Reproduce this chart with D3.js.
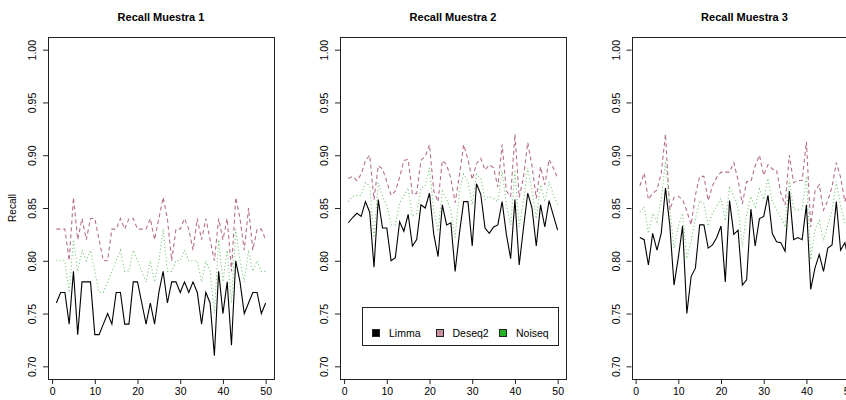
<!DOCTYPE html>
<html>
<head>
<meta charset="utf-8">
<script src="https://cdn.jsdelivr.net/npm/d3@7"></script>
<style>
  body { margin: 0; background: #fff; }
  text { font-family: "Liberation Sans", Arial, sans-serif; fill: #000; }
</style>
</head>
<body>
<div id="chart"></div>
<script>
// tick values
const xTicks = [0, 10, 20, 30, 40, 50];
const yTicks = [0.70, 0.75, 0.80, 0.85, 0.90, 0.95, 1.00];

const methods = ['Limma', 'Deseq2', 'Noiseq'];
const titles = ['Recall Muestra 1', 'Recall Muestra 2', 'Recall Muestra 3'];

// Muestra 1
const limma1 = [0.76,0.77,0.77,0.74,0.79,0.73,0.78,0.78,0.78,0.73, 0.73,0.74,0.75,0.74,0.77,0.77,0.74,0.74,0.78,0.78,
                0.76,0.74,0.76,0.74,0.77,0.79,0.76,0.78,0.78,0.77, 0.78,0.77,0.78,0.77,0.74,0.77,0.76,0.71,0.79,0.75,
                0.78,0.72,0.80,0.78,0.75,0.76,0.77,0.77,0.75,0.76];
const deseq1 = [0.83,0.83,0.83,0.80,0.86,0.82,0.84,0.82,0.84,0.84, 0.82,0.80,0.80,0.83,0.83,0.84,0.83,0.84,0.84,0.83,
                0.83,0.83,0.84,0.82,0.84,0.86,0.84,0.80,0.83,0.83, 0.84,0.83,0.81,0.84,0.82,0.84,0.82,0.80,0.84,0.82,
                0.84,0.79,0.86,0.84,0.81,0.85,0.81,0.83,0.83,0.82];
const noiseq1 = [0.80,0.80,0.80,0.77,0.82,0.79,0.81,0.80,0.81,0.79, 0.77,0.77,0.78,0.79,0.80,0.81,0.79,0.79,0.81,0.80,
                 0.79,0.78,0.80,0.78,0.80,0.83,0.79,0.79,0.80,0.80, 0.81,0.80,0.80,0.80,0.78,0.80,0.79,0.75,0.82,0.78,
                 0.81,0.76,0.83,0.80,0.78,0.81,0.79,0.80,0.79,0.79];

// Muestra 2
const limma2 = [0.836,0.841,0.845,0.842,0.856,0.846,0.794,0.858,0.831,0.831, 0.800,0.803,0.837,0.828,0.844,0.814,0.820,0.853,0.850,0.864,
                0.825,0.804,0.853,0.834,0.836,0.790,0.826,0.856,0.856,0.814, 0.873,0.863,0.831,0.826,0.832,0.834,0.856,0.825,0.802,0.858,
                0.796,0.831,0.864,0.850,0.814,0.853,0.832,0.857,0.843,0.829];
const deseq2 = [0.878,0.880,0.876,0.882,0.895,0.900,0.858,0.890,0.887,0.875, 0.862,0.866,0.879,0.895,0.896,0.863,0.864,0.895,0.899,0.910,
                0.866,0.856,0.895,0.891,0.878,0.855,0.881,0.910,0.896,0.877, 0.892,0.897,0.886,0.891,0.888,0.870,0.910,0.866,0.861,0.920,
                0.860,0.879,0.912,0.890,0.859,0.889,0.872,0.896,0.888,0.878];
const noiseq2 = [0.856,0.861,0.862,0.862,0.874,0.871,0.822,0.874,0.861,0.853, 0.834,0.834,0.855,0.861,0.869,0.842,0.845,0.869,0.871,0.888,
                 0.847,0.828,0.866,0.859,0.847,0.822,0.866,0.882,0.875,0.853, 0.882,0.878,0.858,0.861,0.859,0.856,0.885,0.853,0.834,0.886,
                 0.832,0.856,0.888,0.866,0.840,0.872,0.856,0.875,0.863,0.853];

// Muestra 3
const limma3 = [0.822,0.820,0.796,0.826,0.810,0.826,0.869,0.834,0.777,0.803, 0.833,0.750,0.785,0.793,0.834,0.834,0.812,0.815,0.822,0.833,
                0.780,0.857,0.825,0.829,0.777,0.782,0.849,0.814,0.840,0.842, 0.862,0.826,0.818,0.817,0.809,0.866,0.820,0.822,0.820,0.853,
                0.773,0.793,0.806,0.790,0.812,0.815,0.856,0.810,0.817,0.800];
const deseq3 = [0.871,0.883,0.858,0.864,0.867,0.883,0.920,0.848,0.860,0.861, 0.858,0.847,0.834,0.862,0.880,0.880,0.857,0.871,0.879,0.884,
                0.884,0.884,0.893,0.876,0.854,0.875,0.875,0.890,0.900,0.881, 0.891,0.887,0.886,0.864,0.853,0.900,0.874,0.876,0.876,0.913,
                0.832,0.866,0.872,0.848,0.857,0.870,0.893,0.879,0.856,0.870];
const noiseq3 = [0.846,0.851,0.826,0.845,0.837,0.858,0.894,0.850,0.812,0.833, 0.845,0.802,0.819,0.839,0.857,0.854,0.833,0.845,0.852,0.859,
                 0.838,0.869,0.861,0.850,0.814,0.844,0.861,0.851,0.868,0.858, 0.878,0.856,0.848,0.841,0.832,0.877,0.849,0.848,0.849,0.880,
                 0.801,0.829,0.838,0.819,0.834,0.848,0.875,0.852,0.836,0.836];

const panels = [
    {title: titles[0], series: [limma1, deseq1, noiseq1]},
    {title: titles[1], series: [limma2, deseq2, noiseq2]},
    {title: titles[2], series: [limma3, deseq3, noiseq3]}
];

// line styles per method (R lty 1, 2, 3)
const lineColor = ['#000000', '#b4708a', '#6cc46c'];
const lineDash = [null, '4,3', '1,2.5'];
const legendFill = ['#000000', '#c8939f', '#22b422'];

const W = 846, H = 400;
const boxLeft = [48, 340, 631.5];
const boxW = 226, boxTop = 37, boxBottom = 379;

const svg = d3.select('#chart')
    .append('svg')
    .attr('width', W)
    .attr('height', H);

// R style: ylim 0.7-1 and x 1-50, each padded by 4%
const y = d3.scaleLinear()
    .domain([0.7 - 0.012, 1 + 0.012])
    .range([boxBottom, boxTop]);

panels.forEach((p, k) => {
    const x = d3.scaleLinear()
        .domain([1 - 1.96, 50 + 1.96])
        .range([boxLeft[k], boxLeft[k] + boxW]);

    const g = svg.append('g');

    // title
    g.append('text')
        .attr('x', boxLeft[k] + boxW / 2)
        .attr('y', 21)
        .attr('text-anchor', 'middle')
        .style('font-weight', 'bold')
        .style('font-size', '11px')
        .text(p.title);

    // x axis
    const xAxis = g.append('g')
        .attr('transform', 'translate(0,' + boxBottom + ')')
        .call(d3.axisBottom(x).tickValues(xTicks).tickSize(5).tickPadding(4).tickFormat(d3.format('d')));
    xAxis.select('.domain').remove();
    xAxis.selectAll('line').attr('stroke', '#222');
    xAxis.selectAll('text').style('font-size', '10.5px').style('font-family', '"Liberation Sans", Arial, sans-serif');

    // y axis, labels parallel to axis
    const yAxis = g.append('g')
        .attr('transform', 'translate(' + boxLeft[k] + ',0)')
        .call(d3.axisLeft(y).tickValues(yTicks).tickSize(5).tickFormat(d3.format('.2f')));
    yAxis.select('.domain').remove();
    yAxis.selectAll('line').attr('stroke', '#222');
    yAxis.selectAll('text')
        .attr('x', null).attr('dy', null)
        .attr('text-anchor', 'middle')
        .attr('transform', 'translate(-12,0) rotate(-90)')
        .style('font-size', '10.5px')
        .style('font-family', '"Liberation Sans", Arial, sans-serif');

    // series lines
    const line = d3.line()
        .x((d, i) => x(i + 1))
        .y(d => y(d));

    p.series.forEach((s, m) => {
        g.append('path')
            .attr('d', line(s))
            .attr('fill', 'none')
            .attr('stroke', lineColor[m])
            .attr('stroke-width', 1.1)
            .attr('stroke-dasharray', lineDash[m]);
    });

    // frame
    g.append('rect')
        .attr('x', boxLeft[k] + 0.5)
        .attr('y', boxTop + 0.5)
        .attr('width', boxW)
        .attr('height', boxBottom - boxTop)
        .attr('fill', 'none')
        .attr('stroke', '#222')
        .attr('shape-rendering', 'crispEdges');

    if (k === 0) {
        g.append('text')
            .attr('transform', 'translate(16,' + (boxTop + boxBottom) / 2 + ') rotate(-90)')
            .attr('text-anchor', 'middle')
            .style('font-size', '10px')
            .text('Recall');
    }

    // legend in the middle panel
    if (k === 1) {
        const lx = 362, ly = 307;
        const leg = g.append('g');
        leg.append('rect')
            .attr('x', lx + 0.5).attr('y', ly + 0.5)
            .attr('width', 196).attr('height', 38)
            .attr('fill', '#fff')
            .attr('stroke', '#222')
            .attr('shape-rendering', 'crispEdges');
        const itemX = [372, 435.5, 499];
        methods.forEach((name, m) => {
            leg.append('rect')
                .attr('x', itemX[m] + 0.5).attr('y', 329.5)
                .attr('width', 7).attr('height', 7)
                .attr('fill', legendFill[m])
                .attr('stroke', '#222')
                .attr('shape-rendering', 'crispEdges');
            leg.append('text')
                .attr('x', itemX[m] + 17)
                .attr('y', 337)
                .style('font-size', '10.5px')
                .text(name);
        });
    }
});
</script>
</body>
</html>
